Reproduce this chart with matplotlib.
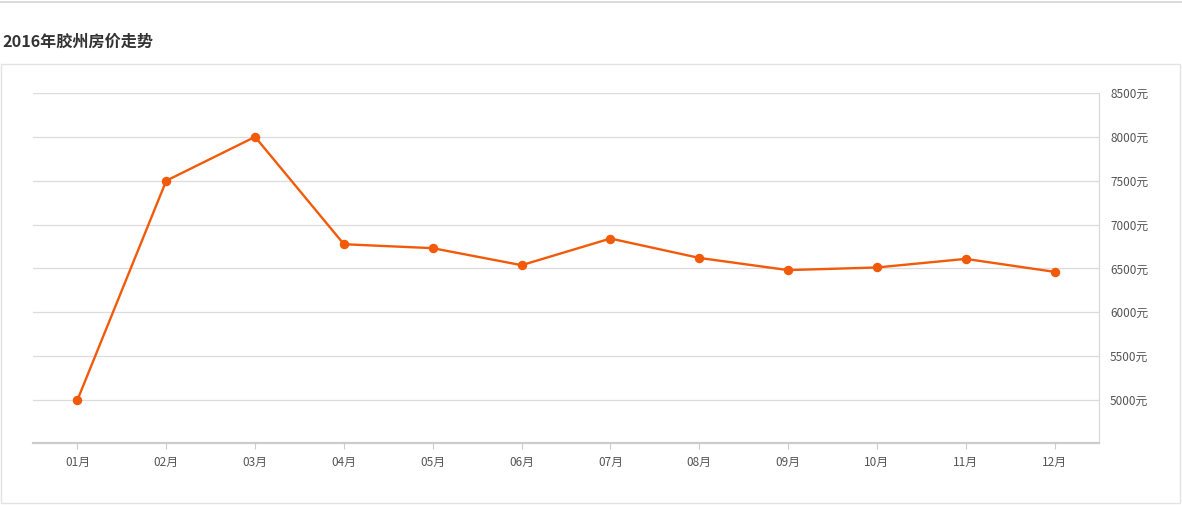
import matplotlib
matplotlib.use("Agg")
import matplotlib.pyplot as plt
from matplotlib.patches import Rectangle
from matplotlib.lines import Line2D

plt.rcParams['font.family'] = ['Noto Sans CJK SC', 'DejaVu Sans']

# Daten
months = ["01月", "02月", "03月", "04月", "05月", "06月", "07月", "08月", "09月", "10月", "11月", "12月"]
prices = [5000, 7500, 8000, 6776, 6731, 6537, 6841, 6620, 6481, 6511, 6609, 6461]
y_ticks = [5000, 5500, 6000, 6500, 7000, 7500, 8000, 8500]
y_labels = [f"{v}元" for v in y_ticks]

W, H = 1182, 505
fig = plt.figure(figsize=(W / 100, H / 100), dpi=100)

# Rahmen und Linie oben
fig.add_artist(Line2D([0, 1], [1 - 1.5 / H, 1 - 1.5 / H], color="#d6d6d6", lw=1.2))
fig.add_artist(Rectangle((1.5 / W, 2 / H), 1178 / W, 439 / H, fill=False,
                         edgecolor="#e3e3e3", lw=1.0, transform=fig.transFigure))
fig.text(2 / W, 1 - 42 / H, "2016年胶州房价走势", fontsize=11.6, fontweight="bold",
         color="#333333", va="center", ha="left")

ax = fig.add_axes([33 / W, (H - 443) / H, (1099 - 33) / W, (443 - 93) / H])
x = list(range(len(months)))
ax.plot(x, prices, color="#f25a0a", lw=1.7, marker="o", markersize=5.8, zorder=3)

ax.set_xlim(-0.5, len(months) - 0.5)
ax.set_ylim(4510, 8500)
ax.set_xticks(x)
ax.set_xticklabels(months)
ax.yaxis.tick_right()
ax.set_yticks(y_ticks)
ax.set_yticklabels(y_labels)
ax.grid(axis="y", color="#dcdcdc", lw=0.9)
ax.set_axisbelow(True)

for s in ["top", "left"]:
    ax.spines[s].set_visible(False)
ax.spines["right"].set_color("#d9d9d9")
ax.spines["right"].set_linewidth(0.9)
ax.spines["bottom"].set_color("#cccccc")
ax.spines["bottom"].set_linewidth(1.6)

ax.tick_params(axis="x", length=4, color="#cccccc", labelsize=8.5, labelcolor="#555555", pad=5)
ax.tick_params(axis="y", length=0, labelsize=8.5, labelcolor="#555555", pad=8)

fig.savefig("out.png", dpi=100)
